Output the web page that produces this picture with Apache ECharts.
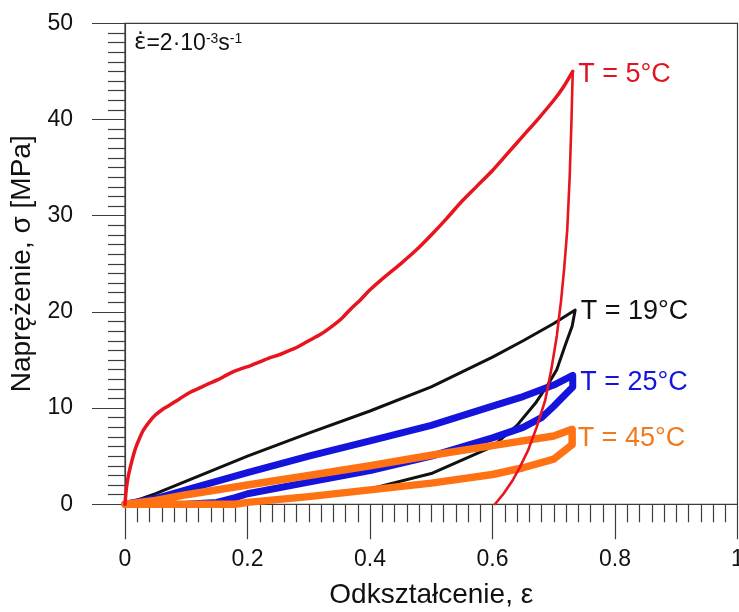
<!DOCTYPE html>
<html>
<head>
<meta charset="utf-8">
<script src="https://cdn.jsdelivr.net/npm/echarts@6/dist/echarts.min.js"></script>
<style>
html,body{margin:0;padding:0;background:#fff;}
#chart{width:739px;height:612px;}
</style>
</head>
<body>
<div id="chart"></div>
<script>
// ---- data (strain ε, stress σ [MPa]) ----
const labelNames = ['T = 19°C', 'T = 25°C', 'T = 45°C', 'T = 5°C'];
const seriesColors = ['#111111', '#1414dc', '#ff7214', '#e8141e'];
const labelColors = ['#111111', '#1414dc', '#f07a1e', '#e0141e'];

const black19 = [
  [0,0],[0.05,1.1],[0.1,2.4],[0.2,5.0],[0.3,7.4],[0.4,9.7],[0.5,12.2],[0.6,15.3],[0.65,17.0],[0.7,18.8],[0.735,20.2],
  [0.73,18.5],[0.718,16.4],[0.705,14.0],[0.69,12.4],[0.67,10.5],[0.64,8.2],[0.6,6.0],[0.5,3.2],[0.4,1.6],[0.3,0.7],[0.2,0.2],[0.12,0]
];
const blue25 = [
  [0,0],[0.05,0.6],[0.1,1.5],[0.2,3.3],[0.3,5.0],[0.4,6.6],[0.5,8.2],[0.6,10.2],[0.65,11.2],[0.7,12.4],[0.731,13.4],
  [0.731,12.2],[0.72,11.5],[0.7,10.2],[0.68,9.0],[0.65,8.0],[0.6,6.9],[0.5,5.0],[0.4,3.5],[0.3,2.3],[0.2,1.1],[0.18,0.7],[0.15,0.2],[0.1,0]
];
const orange45 = [
  [0,0],[0.05,0.4],[0.1,1.0],[0.2,2.0],[0.3,3.0],[0.4,4.0],[0.5,5.1],[0.6,6.1],[0.7,7.1],[0.73,7.8],
  [0.73,6.2],[0.7,4.7],[0.65,3.8],[0.6,3.1],[0.5,2.2],[0.4,1.5],[0.3,0.8],[0.2,0.2],[0.18,0],[0.1,0],[0,0]
];
// 5°C: loading branch and unloading branch
const red5Load = [
  [0,0],[0.002,1.5],[0.005,2.8],[0.01,4.2],[0.016,5.6],[0.022,6.6],[0.03,7.7],[0.04,8.6],[0.05,9.3],[0.06,9.8],[0.07,10.2],
  [0.08,10.6],[0.09,11.0],[0.105,11.6],[0.122,12.1],[0.135,12.5],[0.15,12.9],[0.165,13.4],[0.177,13.8],[0.19,14.1],
  [0.204,14.4],[0.22,14.8],[0.235,15.2],[0.25,15.5],[0.265,15.9],[0.28,16.3],[0.297,16.9],[0.32,17.7],[0.34,18.6],
  [0.355,19.4],[0.367,20.2],[0.385,21.3],[0.4,22.3],[0.425,23.7],[0.45,25.0],[0.475,26.4],[0.5,28.0],[0.525,29.7],
  [0.55,31.5],[0.575,33.1],[0.6,34.7],[0.625,36.5],[0.65,38.3],[0.675,40.1],[0.7,42.0],[0.715,43.3],[0.731,45.0]
];
const red5Unload = [
  [0.731,45.0],[0.729,40.0],[0.726,34.0],[0.722,28.5],[0.717,24.5],[0.712,21.2],[0.705,17.5],[0.696,14.0],[0.686,10.8],
  [0.672,8.0],[0.658,5.6],[0.645,3.9],[0.633,2.5],[0.618,1.1],[0.604,0]
];

const seriesData = [black19, blue25, orange45, red5Load, red5Unload];
const seriesColorIdx = [0, 1, 2, 3, 3];
const lineWidths = [3, 7, 7.5, 3.5, 2.6];
const smoothness = [0, 0, 0, 0.3, 0];
const labelOffsets = [[0, 2], [2, 7], [0, 9], [0, 3]];

// axis ticks
const xTicks = {min: 0, max: 1, interval: 0.2};
const yTicks = {min: 0, max: 50, interval: 10};

const FONT = 'Liberation Sans, Arial, sans-serif';

function peakOf(d) {
  let best = d[0];
  d.forEach(p => { if (p[1] > best[1]) best = p; });
  return best;
}

const chart = echarts.init(document.getElementById('chart'), null, {renderer: 'canvas'});

const series = seriesData.map((d, i) => {
  const c = seriesColorIdx[i];
  const s = {
    type: 'line',
    data: d,
    showSymbol: false,
    symbol: 'none',
    smooth: smoothness[i],
    lineStyle: {color: seriesColors[c], width: lineWidths[i], join: 'round', cap: 'round'},
    z: 2 + i,
    animation: false
  };
  if (i < 4) {
    s.name = labelNames[c];
    s.markPoint = {
      symbol: 'circle',
      symbolSize: 1,
      itemStyle: {color: 'rgba(0,0,0,0)'},
      label: {
        show: true,
        position: 'right',
        distance: 5,
        offset: labelOffsets[c],
        formatter: labelNames[c],
        color: labelColors[c],
        fontSize: 27,
        fontFamily: FONT
      },
      data: [{coord: peakOf(d)}]
    };
  }
  return s;
});

const axisColor = '#3c3c3c';

chart.setOption({
  animation: false,
  backgroundColor: '#ffffff',
  grid: {
    left: 125, right: 1.5, top: 23.3, bottom: 107.7,
    outerBoundsMode: 'none',
    containLabel: false,
    show: true, borderColor: axisColor, borderWidth: 1.2, backgroundColor: 'transparent'
  },
  xAxis: {
    type: 'value',
    min: xTicks.min, max: xTicks.max, interval: xTicks.interval,
    name: 'Odkształcenie, ε',
    nameLocation: 'middle',
    nameGap: 77,
    nameTextStyle: {fontSize: 28, color: '#111', fontFamily: FONT},
    axisLine: {show: true, lineStyle: {color: axisColor, width: 1.2}},
    axisTick: {show: true, inside: false, length: 35, lineStyle: {color: axisColor, width: 1.2}},
    minorTick: {show: true, splitNumber: 10, length: 18, lineStyle: {color: axisColor, width: 1.2}},
    splitLine: {show: false},
    minorSplitLine: {show: false},
    axisLabel: {fontSize: 23, color: '#111', margin: 44, fontFamily: FONT}
  },
  yAxis: {
    type: 'value',
    min: yTicks.min, max: yTicks.max, interval: yTicks.interval,
    name: 'Naprężenie, σ [MPa]',
    nameLocation: 'middle',
    nameGap: 88,
    nameTextStyle: {fontSize: 28, color: '#111', fontFamily: FONT},
    axisLine: {show: true, lineStyle: {color: axisColor, width: 1.2}},
    axisTick: {show: true, inside: false, length: 33, lineStyle: {color: axisColor, width: 1.2}},
    minorTick: {show: true, splitNumber: 10, length: 17, lineStyle: {color: axisColor, width: 1.2}},
    splitLine: {show: false},
    minorSplitLine: {show: false},
    axisLabel: {fontSize: 23, color: '#111', margin: 52, fontFamily: FONT}
  },
  graphic: [{
    type: 'text',
    left: 134,
    top: 32,
    z: 10,
    style: {
      text: '{e|ε̇}{a|=2·10}{s|-3}{a|s}{s|-1}',
      fontFamily: FONT,
      rich: {
        e: {fontSize: 23, fontFamily: 'DejaVu Sans', fill: '#111', color: '#111'},
        a: {fontSize: 23, fontFamily: FONT, fill: '#111', color: '#111'},
        s: {fontSize: 14, fontFamily: FONT, fill: '#111', color: '#111', verticalAlign: 'top'}
      }
    }
  }],
  series: series
});
</script>
</body>
</html>
